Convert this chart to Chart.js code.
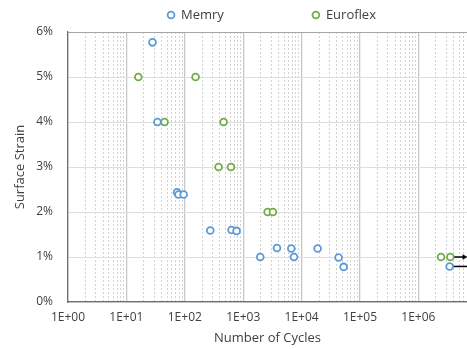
<!DOCTYPE html>
<html>
<head>
<meta charset="utf-8">
<title>Surface Strain vs Number of Cycles</title>
<script src="https://cdn.jsdelivr.net/npm/chart.js@4.4.1/dist/chart.umd.min.js"></script>
<style>
  html, body { margin: 0; padding: 0; background: #fff; overflow: hidden; }
  #strainChart { display: block; }
</style>
</head>
<body>
<canvas id="strainChart" width="467" height="349"></canvas>
<script>
// Memry: cycles to failure and surface strain (%)
const memryCycles = [28, 34, 73.5, 78, 95.5, 273, 633, 771, 1960, 3790, 6670, 7410, 18800, 43000, 52500, 3430000];
const memryStrain = [5.77, 4.0, 2.44, 2.39, 2.39, 1.59, 1.6, 1.58, 1.0, 1.2, 1.19, 1.0, 1.19, 0.99, 0.78, 0.79];

// Euroflex
const euroCycles = [16, 45, 153, 462, 379, 617, 2620, 3230, 2440000, 3520000];
const euroStrain = [5.0, 4.0, 5.0, 4.0, 3.0, 3.0, 2.0, 2.0, 1.0, 1.0];

// Run-outs (no failure), drawn as arrows to the right
const runoutFrom = [3520000, 3430000];
const runoutTo = [6100000, 9000000];
const runoutStrain = [1.0, 0.79];
const runoutColors = ['#000000', '#000000'];

// Axis ticks
const decadeLabels = ['1E+00', '1E+01', '1E+02', '1E+03', '1E+04', '1E+05', '1E+06'];
const strainTicks = [0, 1, 2, 3, 4, 5, 6];
const cyclesMax = 6.8e6;   // plot is cut off just short of 1E+07

const blue = '#5b9bd5';
const green = '#70ad47';
const textColor = '#404040';
const fontFamily = "'Open Sans', 'DejaVu Sans', sans-serif";

function toPoints(xs, ys) {
    return xs.map((x, i) => ({ x: x, y: ys[i] }));
}

function isDecade(v) {
    const e = Math.log10(v);
    return Math.abs(e - Math.round(e)) < 1e-9;
}

function scatterSet(label, xs, ys, color) {
    return {
        label: label,
        data: toPoints(xs, ys),
        borderColor: color,
        backgroundColor: '#ffffff',
        pointBorderColor: color,
        pointBackgroundColor: '#ffffff',
        pointRadius: 3.4,
        pointBorderWidth: 1.8,
        pointHoverRadius: 3.4,
        order: 1
    };
}

const runoutSets = runoutFrom.map((x, i) => ({
    type: 'line',
    label: 'runout',
    data: [{ x: x, y: runoutStrain[i] }, { x: runoutTo[i], y: runoutStrain[i] }],
    borderColor: runoutColors[i],
    borderWidth: 1.5,
    pointRadius: [0, 3.2],
    pointStyle: 'triangle',
    pointRotation: 90,
    pointBackgroundColor: runoutColors[i],
    pointBorderColor: runoutColors[i],
    pointBorderWidth: 0,
    order: 2
}));

// Legend drawn centred over the plot area with wide spacing
const centeredLegend = {
    id: 'centeredLegend',
    afterDraw(chart) {
        const ctx = chart.ctx;
        const items = chart.data.datasets.filter(d => d.type !== 'line');
        const gap = 88;
        ctx.save();
        ctx.font = '13px ' + fontFamily;
        const widths = items.map(d => 14 + ctx.measureText(d.label).width);
        const total = widths.reduce((a, b) => a + b, 0) + gap * (items.length - 1);
        let x = (chart.chartArea.left + chart.chartArea.right) / 2 + 4 - total / 2;
        const y = 15;
        items.forEach((d, i) => {
            ctx.beginPath();
            ctx.arc(x + 4, y, 3.4, 0, Math.PI * 2);
            ctx.fillStyle = '#ffffff';
            ctx.fill();
            ctx.lineWidth = 1.8;
            ctx.strokeStyle = d.borderColor;
            ctx.stroke();
            ctx.fillStyle = textColor;
            ctx.textBaseline = 'middle';
            ctx.textAlign = 'left';
            ctx.fillText(d.label, x + 14, y);
            x += widths[i] + gap;
        });
        ctx.restore();
    }
};

const strainChart = new Chart(document.getElementById('strainChart'), {
    type: 'scatter',
    data: {
        datasets: [
            scatterSet('Memry', memryCycles, memryStrain, blue),
            scatterSet('Euroflex', euroCycles, euroStrain, green)
        ].concat(runoutSets)
    },
    options: {
        responsive: false,
        devicePixelRatio: 1,
        animation: false,
        layout: {
            autoPadding: false,
            padding: { top: 32, left: 0, right: 0, bottom: 0 }
        },
        plugins: {
            legend: { display: false },
            tooltip: { enabled: false }
        },
        scales: {
            x: {
                type: 'logarithmic',
                min: 1,
                max: cyclesMax,
                afterBuildTicks: function(scale) {
                    const t = [];
                    for (let e = 0; e <= 6; e++) {
                        for (let m = 1; m <= 9; m++) {
                            const v = m * Math.pow(10, e);
                            if (v <= cyclesMax) t.push({ value: v });
                        }
                    }
                    scale.ticks = t;
                },
                afterFit: function(scale) {
                    scale.height = 47;
                    scale.paddingRight = 0;
                },
                ticks: {
                    autoSkip: false,
                    maxRotation: 0,
                    padding: 8,
                    color: textColor,
                    font: { family: fontFamily, size: 12 },
                    callback: function(value) {
                        if (!isDecade(value)) return '';
                        return decadeLabels[Math.round(Math.log10(value))] || '';
                    }
                },
                grid: {
                    drawTicks: false,
                    color: ctx => (ctx.tick && isDecade(ctx.tick.value)) ? '#c8c8c8' : '#d2d2d2',
                    lineWidth: ctx => (ctx.tick && isDecade(ctx.tick.value)) ? 1.3 : 1
                },
                border: {
                    color: '#6f6f6f',
                    width: 1.3,
                    dash: ctx => (ctx.tick && !isDecade(ctx.tick.value)) ? [2, 2] : []
                },
                title: {
                    display: true,
                    text: 'Number of Cycles',
                    color: textColor,
                    font: { family: fontFamily, size: 13 },
                    padding: { top: 0, bottom: 3 }
                }
            },
            y: {
                min: 0,
                max: 6,
                afterBuildTicks: function(scale) {
                    scale.ticks = strainTicks.map(v => ({ value: v }));
                },
                afterFit: function(scale) { scale.width = 68; },
                ticks: {
                    padding: 15,
                    color: textColor,
                    font: { family: fontFamily, size: 12 },
                    callback: value => value + '%'
                },
                grid: {
                    drawTicks: false,
                    color: ctx => (ctx.tick && ctx.tick.value === 6) ? '#a6a6a6' : '#dedede',
                    lineWidth: 1
                },
                border: { color: '#6f6f6f', width: 1.3 },
                title: {
                    display: true,
                    text: 'Surface Strain',
                    color: textColor,
                    font: { family: fontFamily, size: 13 },
                    padding: { top: 12, bottom: 0 }
                }
            }
        }
    },
    plugins: [centeredLegend]
});
</script>
</body>
</html>
